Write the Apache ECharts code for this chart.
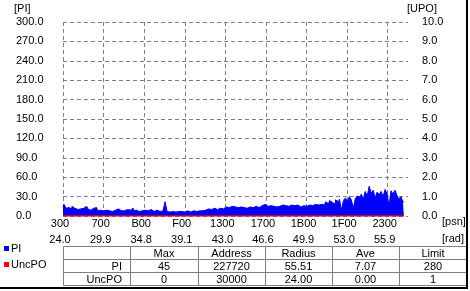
<!DOCTYPE html>
<html><head><meta charset="utf-8">
<script src="https://cdn.jsdelivr.net/npm/echarts@6/dist/echarts.min.js"></script>
<style>html,body{margin:0;padding:0;background:#fff}#c{width:470px;height:291px}</style>
</head><body><div id="c"></div>
<script>
// ---- data ----
const psnTicks = ['300','700','B00','F00','1300','1700','1B00','1F00','2300'];
const radTicks = ['24.0','29.9','34.8','39.1','43.0','46.6','49.9','53.0','55.9'];
const piLeftTicks = [0,30,60,90,120,150,180,210,240,270,300];
const upoRightTicks = [0,1,2,3,4,5,6,7,8,9,10];
const addrStart = 0x300;   // first sample address
const addrStep = 50;       // address distance between samples
const piValues = [
  14,18,12,13,11,15,12,10,13,11,
  12,10,15,11,9,12,10,13,8,9,
  8,7,9,8,10,7,9,8,11,8,
  9,8,10,7,9,12,8,9,7,10,
  8,9,7,8,10,8,7,9,8,7,
  8,8,22,7,6,7,8,6,7,6,
  7,6,7,8,6,7,8,7,9,8,
  8,10,9,11,9,10,12,11,10,12,
  13,11,14,12,13,15,12,14,13,12,
  14,13,15,12,14,16,13,15,14,13,
  16,14,18,15,14,16,15,17,14,15,
  15,17,16,18,15,17,19,16,17,15,
  14,16,13,15,17,14,16,18,15,17,
  18,20,17,22,19,24,21,18,25,22,
  26,9,24,28,22,30,25,12,27,31,
  29,34,26,38,31,46,35,40,28,37,
  33,38,30,41,35,15,39,34,40,32,
  26,30,22
];
const uncpoValues = [0, 0]; // constant zero over whole range (start, end)
const tableHeader = ['', 'Max', 'Address', 'Radius', 'Ave', 'Limit'];
const piStats = ['PI', '45', '227720', '55.51', '7.07', '280'];
const uncpoStats = ['UncPO', '0', '30000', '24.00', '0.00', '1'];

// ---- chart ----
const FONT = '"Liberation Sans", Arial, sans-serif';
const xMin = 0x300, xMax = 0x2500, xInt = 0x400;
const lastAddr = addrStart + (piValues.length - 1) * addrStep;
const piData = piValues.map((v, i) => [addrStart + i * addrStep, v]);
const uncData = [[addrStart, uncpoValues[0]], [lastAddr, uncpoValues[1]]];

const dash = { color: '#808080', width: 1, type: [4, 3] };
const txt = { color: '#000', fontSize: 11, fontFamily: FONT };

// table graphics
const colX = [63, 130, 198, 265, 332, 399, 467];
const rowY = [246, 259, 272, 285];
const rows = [tableHeader, piStats, uncpoStats];
const tableEls = [];
tableEls.push({ type: 'rect', shape: { x: colX[0] + 0.5, y: rowY[0] + 0.5, width: colX[6] - colX[0] - 1, height: rowY[3] - rowY[0] }, style: { fill: null, stroke: '#808080', lineWidth: 1 } });
for (let r = 1; r < 3; r++) tableEls.push({ type: 'line', shape: { x1: colX[0], y1: rowY[r] + 0.5, x2: colX[6], y2: rowY[r] + 0.5 }, style: { stroke: '#808080', lineWidth: 1 } });
for (let c = 1; c < 6; c++) tableEls.push({ type: 'line', shape: { x1: colX[c] + 0.5, y1: rowY[0], x2: colX[c] + 0.5, y2: rowY[3] }, style: { stroke: '#808080', lineWidth: 1 } });
rows.forEach((row, r) => {
  row.forEach((t, c) => {
    if (!t) return;
    const cy = (rowY[r] + rowY[r + 1]) / 2 + 1;
    if (c === 0) tableEls.push({ type: 'text', x: colX[1] - 8, y: cy, style: Object.assign({ text: t, align: 'right', verticalAlign: 'middle' }, { fill: '#000', font: '11px ' + FONT }) });
    else tableEls.push({ type: 'text', x: (colX[c] + colX[c + 1]) / 2, y: cy, style: { text: t, align: 'center', verticalAlign: 'middle', fill: '#000', font: '11px ' + FONT } });
  });
});

const unitText = (t, x, y) => ({ type: 'text', x, y, style: { text: t, align: 'left', verticalAlign: 'middle', fill: '#000', font: '11px ' + FONT } });

const chart = echarts.init(document.getElementById('c'), null, { renderer: 'canvas' });
chart.setOption({
  animation: false,
  backgroundColor: '#fff',
  grid: { left: 63, top: 22, right: 62, bottom: 75 },
  legend: {
    data: ['PI', 'UncPO'], orient: 'vertical', left: 4, top: 243, padding: 0,
    icon: 'rect', itemWidth: 5, itemHeight: 5, itemGap: 5,
    textStyle: Object.assign({}, txt, { padding: [7, 0, 0, -3] })
  },
  xAxis: [
    { type: 'value', min: xMin, max: xMax, interval: xInt, position: 'bottom',
      axisLine: { show: false }, axisTick: { show: false },
      splitLine: { show: true, showMaxLine: false, lineStyle: dash },
      axisLabel: Object.assign({}, txt, { margin: 2, padding: [0, 6, 0, 0], showMaxLabel: true,
        formatter: v => psnTicks[Math.round((v - xMin) / xInt)] || '' }) },
    { type: 'value', min: xMin, max: xMax, interval: xInt, position: 'bottom',
      axisLine: { show: false }, axisTick: { show: false }, splitLine: { show: false },
      axisLabel: Object.assign({}, txt, { margin: 18, padding: [0, 6, 0, 0],
        formatter: v => radTicks[Math.round((v - xMin) / xInt)] || '' }) }
  ],
  yAxis: [
    { type: 'value', min: piLeftTicks[0], max: piLeftTicks[piLeftTicks.length - 1], interval: piLeftTicks[1] - piLeftTicks[0],
      axisLine: { show: false }, axisTick: { show: false },
      splitLine: { show: true, lineStyle: dash },
      axisLabel: Object.assign({}, txt, { align: 'left', margin: 47, formatter: v => v.toFixed(1) }) },
    { type: 'value', position: 'right', min: upoRightTicks[0], max: upoRightTicks[upoRightTicks.length - 1], interval: upoRightTicks[1] - upoRightTicks[0],
      axisLine: { show: false }, axisTick: { show: false }, splitLine: { show: false },
      axisLabel: Object.assign({}, txt, { margin: 14, formatter: v => v.toFixed(1) }) }
  ],
  series: [
    { name: 'PI', type: 'line', xAxisIndex: 0, yAxisIndex: 0, step: 'middle', showSymbol: false, symbol: 'none',
      data: piData, color: '#0000ff', itemStyle: { color: '#0000ff' },
      lineStyle: { color: '#0000ff', width: 1 }, areaStyle: { color: '#0000ff', opacity: 1 } },
    { name: 'UncPO', type: 'line', xAxisIndex: 0, yAxisIndex: 1, showSymbol: false, symbol: 'none', z: 5,
      data: uncData, color: '#ff0000', itemStyle: { color: '#ff0000' },
      lineStyle: { color: '#ff0000', width: 1.5 } }
  ],
  graphic: [
    unitText('[PI]', 14, 9),
    unitText('[UPO]', 407, 9),
    unitText('[psn]', 442, 222),
    unitText('[rad]', 442, 239),
    ...tableEls,
    { type: 'rect', shape: { x: 466, y: 0, width: 2, height: 289 }, style: { fill: '#000' } },
    { type: 'rect', shape: { x: 0, y: 287, width: 468, height: 2 }, style: { fill: '#000' } }
  ]
});
</script>
</body></html>
